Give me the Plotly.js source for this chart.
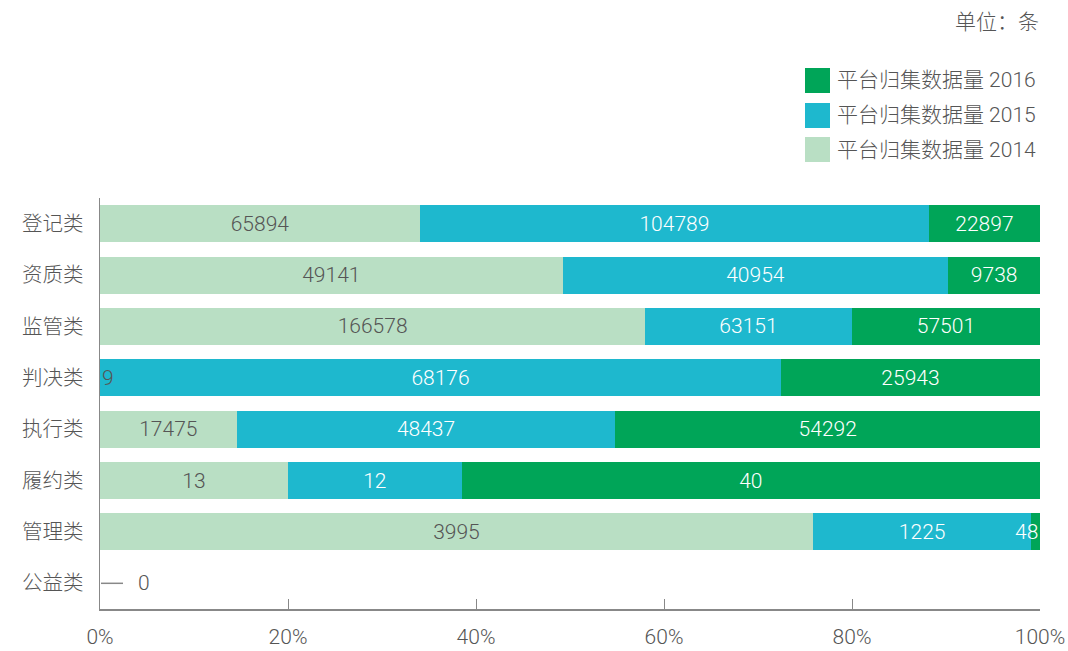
<!DOCTYPE html>
<html>
<head>
<meta charset="utf-8">
<script src="https://cdn.plot.ly/plotly-3.0.1.min.js"></script>
<style>html,body{margin:0;padding:0;background:#fff;}#chart{width:1068px;height:651px;}</style>
</head>
<body>
<div id="chart"></div>
<script>
// ---- data ----
const categories = ['登记类','资质类','监管类','判决类','执行类','履约类','管理类','公益类'];
const v2014 = [65894, 49141, 166578, 9, 17475, 13, 3995, 0];
const v2015 = [104789, 40954, 63151, 68176, 48437, 12, 1225, 0];
const v2016 = [22897, 9738, 57501, 25943, 54292, 40, 48, 0];
const seriesNames = ['平台归集数据量 2014','平台归集数据量 2015','平台归集数据量 2016'];
const xTickVals = [0, 20, 40, 60, 80, 100];
const unitLabel = '单位：条';

// ---- style ----
const colors = ['#b9dfc4', '#1eb8ce', '#00a558'];
const textColors = ['#555555', '#ffffff', '#ffffff'];
const FONT = 'Roboto, Noto Sans CJK SC, sans-serif';
const WEIGHT = 300;
const W = 1068, H = 651;
const M = {l: 100, r: 28, t: 198, b: 42};
const PW = W - M.l - M.r, PH = H - M.t - M.b;
const px2x = px => (px - M.l) / PW;
const py2y = py => (H - M.b - py) / PH;
const fnt = (color, size) => ({family: FONT, size: size || 21, color: color, weight: WEIGHT});

const series = [v2014, v2015, v2016];
const totals = categories.map((c, i) => series.reduce((s, v) => s + v[i], 0));

const annotations = [];
const shapes = [];

const traces = series.map((vals, k) => {
  const text = vals.map((v, i) => {
    const tot = totals[i];
    if (tot === 0) return '';
    const pct = v / tot * 100;
    if (pct < 3) {
      let start = 0;
      for (let j = 0; j < k; j++) start += series[j][i];
      const atStart = start === 0;
      annotations.push({
        xref: 'x', yref: 'y', x: atStart ? 0 : 100, y: categories[i],
        text: String(v), showarrow: false,
        xanchor: atStart ? 'left' : 'right', yanchor: 'middle',
        font: fnt(textColors[k])
      });
      return '';
    }
    return String(v);
  });
  return {
    type: 'bar', orientation: 'h', name: seriesNames[k],
    y: categories, x: vals, text: text, texttemplate: '%{text}',
    textposition: 'inside', insidetextanchor: 'middle', textangle: 0,
    constraintext: 'none',
    textfont: fnt(textColors[k]),
    marker: {color: colors[k], line: {width: 0}},
    hoverinfo: 'x+y+name', showlegend: false
  };
});

// zero-total rows: leader line + value
categories.forEach((c, i) => {
  if (totals[i] === 0) {
    shapes.push({type: 'line', xref: 'paper', yref: 'y', x0: px2x(101), x1: px2x(123), y0: i, y1: i,
      line: {color: '#888888', width: 1.5}});
    annotations.push({xref: 'paper', yref: 'y', x: px2x(136), y: categories[i], text: String(totals[i]),
      showarrow: false, xanchor: 'left', yanchor: 'middle', font: fnt('#555555')});
  }
});

// custom legend (top-right)
const legendRows = [{k: 2, top: 68}, {k: 1, top: 103}, {k: 0, top: 137}];
legendRows.forEach(r => {
  shapes.push({type: 'rect', xref: 'paper', yref: 'paper', x0: px2x(805), x1: px2x(830),
    y0: py2y(r.top), y1: py2y(r.top + 25), fillcolor: colors[r.k], line: {width: 0}});
  annotations.push({xref: 'paper', yref: 'paper', x: px2x(835), y: py2y(r.top + 12.5),
    text: seriesNames[r.k], showarrow: false, xanchor: 'left', yanchor: 'middle',
    font: fnt('#555555')});
});
annotations.push({xref: 'paper', yref: 'paper', x: px2x(1041), y: py2y(22), text: unitLabel,
  showarrow: false, xanchor: 'right', yanchor: 'middle', font: fnt('#555555')});

const layout = {
  width: W, height: H, margin: M,
  paper_bgcolor: '#ffffff', plot_bgcolor: '#ffffff',
  barmode: 'stack', barnorm: 'percent', bargap: 0.28,
  showlegend: false,
  font: fnt('#555555'),
  xaxis: {
    range: [0, 100], tickvals: xTickVals, ticktext: xTickVals.map(v => v + '%'),
    ticks: 'inside', ticklen: 10, tickcolor: '#888888', tickwidth: 1,
    showline: true, linecolor: '#888888', linewidth: 1.5,
    showgrid: false, zeroline: false, ticklabelstandoff: 8,
    tickfont: fnt('#555555'), layer: 'below traces', fixedrange: true
  },
  yaxis: {
    type: 'category', categoryorder: 'array', categoryarray: categories,
    range: [categories.length - 0.5, -0.5],
    showline: true, linecolor: '#888888', linewidth: 1.5, ticks: '',
    showgrid: false, zeroline: false, ticklabelstandoff: 11,
    tickfont: fnt('#555555', 20.5), layer: 'below traces', fixedrange: true
  },
  shapes: shapes, annotations: annotations
};

Plotly.newPlot('chart', traces, layout, {displayModeBar: false, staticPlot: true});
</script>
</body>
</html>
